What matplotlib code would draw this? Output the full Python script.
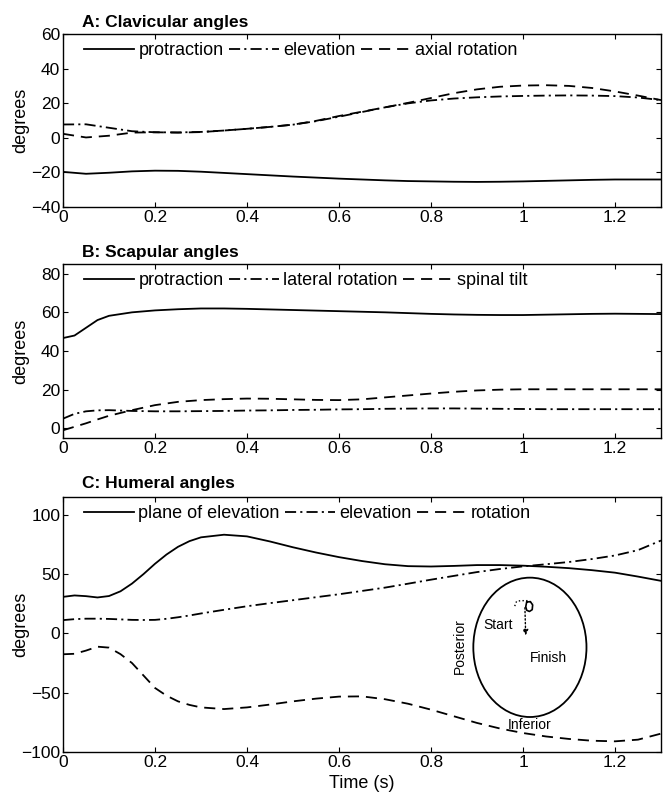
import matplotlib
matplotlib.use("Agg")
import matplotlib.pyplot as plt
from matplotlib.patches import Ellipse

plt.rcParams['font.family'] = ['Liberation Sans', 'DejaVu Sans']
plt.rcParams['lines.scale_dashes'] = False

# ---------------- data ----------------
tA = [0, 0.05, 0.1, 0.15, 0.2, 0.25, 0.3, 0.35, 0.4, 0.45, 0.5, 0.55, 0.6, 0.65,
      0.7, 0.75, 0.8, 0.85, 0.9, 0.95, 1.0, 1.05, 1.1, 1.15, 1.2, 1.25, 1.3]
A_protraction = [-19.7, -20.8, -20.2, -19.4, -19.0, -19.1, -19.6, -20.3, -21.0, -21.7,
                 -22.4, -23.0, -23.6, -24.1, -24.6, -25.0, -25.2, -25.4, -25.5, -25.4,
                 -25.2, -24.9, -24.6, -24.3, -24.1, -24.1, -24.1]
A_elevation = [7.7, 7.8, 5.8, 3.8, 3.2, 3.1, 3.4, 4.2, 5.2, 6.3, 7.6, 9.6, 12.2, 14.9,
               17.6, 19.9, 21.6, 22.7, 23.4, 23.9, 24.2, 24.4, 24.5, 24.4, 24.1, 23.3, 21.8]
A_axial = [2.3, 0.2, 1.2, 3.0, 3.2, 3.0, 3.3, 4.2, 5.2, 6.3, 7.6, 9.8, 12.6, 15.1,
           17.6, 20.2, 23.0, 25.8, 28.0, 29.5, 30.2, 30.4, 30.0, 28.8, 26.8, 24.4, 21.8]

tB = [0, 0.025, 0.05, 0.075, 0.1, 0.15, 0.2, 0.25, 0.3, 0.35, 0.4, 0.45, 0.5, 0.55,
      0.6, 0.65, 0.7, 0.75, 0.8, 0.85, 0.9, 0.95, 1.0, 1.05, 1.1, 1.15, 1.2, 1.25, 1.3]
B_protraction = [46.7, 48.0, 52.0, 56.0, 58.2, 60.0, 61.0, 61.6, 62.0, 62.0, 61.8, 61.5,
                 61.2, 60.9, 60.6, 60.3, 60.0, 59.6, 59.2, 58.9, 58.7, 58.6, 58.6, 58.8,
                 59.0, 59.2, 59.3, 59.2, 59.1]
B_lateral = [5.0, 7.5, 8.8, 9.3, 9.4, 9.0, 8.8, 8.8, 8.9, 9.0, 9.2, 9.3, 9.5, 9.6,
             9.8, 9.9, 10.1, 10.2, 10.3, 10.3, 10.2, 10.1, 10.0, 9.9, 9.9, 9.9, 9.9, 9.9, 9.9]
B_spinal = [-1.0, 0.8, 2.6, 4.6, 6.5, 9.4, 12.0, 13.7, 14.6, 15.1, 15.4, 15.3, 15.0, 14.7,
            14.6, 15.0, 16.0, 17.0, 18.0, 18.9, 19.6, 20.0, 20.2, 20.2, 20.2, 20.2, 20.2,
            20.2, 20.2]

tC = [0, 0.025, 0.05, 0.075, 0.1, 0.125, 0.15, 0.175, 0.2, 0.225, 0.25, 0.275, 0.3,
      0.35, 0.4, 0.45, 0.5, 0.55, 0.6, 0.65, 0.7, 0.75, 0.8, 0.85, 0.9, 0.95, 1.0,
      1.05, 1.1, 1.15, 1.2, 1.25, 1.3]
C_plane = [30.8, 32.0, 31.4, 30.3, 31.5, 35.5, 42.0, 50.0, 58.7, 66.5, 73.0, 77.8, 81.0,
           83.2, 81.8, 77.5, 72.6, 68.2, 64.3, 61.0, 58.3, 56.7, 56.4, 56.9, 57.6, 57.6,
           57.1, 56.2, 55.0, 53.3, 51.2, 47.9, 44.3]
C_elevation = [11.2, 12.0, 12.4, 12.4, 12.2, 11.8, 11.4, 11.3, 11.4, 12.3, 13.6, 15.1,
               16.8, 19.9, 22.9, 25.5, 28.0, 30.5, 33.0, 35.8, 38.6, 41.9, 45.3, 48.5,
               51.7, 54.3, 56.5, 58.3, 60.2, 62.7, 65.7, 70.2, 78.3]
C_rotation = [-17.6, -17.2, -14.5, -11.2, -12.0, -17.5, -25.0, -35.5, -46.0, -52.5,
              -57.3, -60.3, -62.4, -63.8, -62.4, -60.0, -57.3, -55.0, -53.3, -53.1,
              -55.5, -59.3, -64.3, -69.9, -75.5, -80.2, -84.0, -86.9, -89.0, -90.5,
              -91.0, -89.6, -84.5]

# inset (drawn in panel C data coordinates)
ell_center = (1.015, -11.75)
ell_width = 0.246
ell_height = 117.5
path_x = [0.982, 0.986, 0.995, 1.010, 1.022]
path_y = [23.0, 27.0, 27.6, 27.6, 25.5]
loop_x = [1.008, 1.006, 1.008, 1.014, 1.020, 1.021, 1.016, 1.010]
loop_y = [26.5, 22.5, 19.5, 18.5, 20.0, 24.0, 26.8, 26.5]
drop_x = [1.004, 1.006]
drop_y = [24.0, -4.0]

titles = ["A: Clavicular angles", "B: Scapular angles", "C: Humeral angles"]
legends = [["protraction", "elevation", "axial rotation"],
           ["protraction", "lateral rotation", "spinal tilt"],
           ["plane of elevation", "elevation", "rotation"]]
ylims = [(-40, 60), (-5, 85), (-100, 115)]
yticks = [[-40, -20, 0, 20, 40, 60], [0, 20, 40, 60, 80], [-100, -50, 0, 50, 100]]
xticks = [0, 0.2, 0.4, 0.6, 0.8, 1.0, 1.2]
xticklabels = ["0", "0.2", "0.4", "0.6", "0.8", "1", "1.2"]

# ---------------- figure ----------------
fig = plt.figure(figsize=(6.64, 7.98), dpi=100)
W, H = 664, 798
L, R = 63, 661
boxes = [(34, 207), (264, 438), (497, 752)]

series = [(tA, [A_protraction, A_elevation, A_axial]),
          (tB, [B_protraction, B_lateral, B_spinal]),
          (tC, [C_plane, C_elevation, C_rotation])]

styles = [dict(linestyle='-'),
          dict(linestyle=(0, (8, 3, 1.5, 3))),
          dict(linestyle=(0, (8, 5)))]

lw = 1.3
axes = []
for i, (top, bot) in enumerate(boxes):
    ax = fig.add_axes([L / W, 1 - bot / H, (R - L) / W, (bot - top) / H])
    axes.append(ax)
    t, ys = series[i]
    for y, st, lab in zip(ys, styles, legends[i]):
        ax.plot(t, y, color='black', lw=lw, label=lab, **st)
    ax.set_xlim(0, 1.3)
    ax.set_ylim(*ylims[i])
    ax.set_yticks(yticks[i])
    ax.set_yticklabels([str(v).replace('-', '\u2212') for v in yticks[i]])
    ax.set_xticks(xticks)
    ax.set_xticklabels(xticklabels)
    ax.tick_params(direction='in', top=True, right=True, length=3.6, width=0.8,
                   labelsize=12.5, pad=2)
    for sp in ax.spines.values():
        sp.set_linewidth(1.0)
    ax.set_ylabel("degrees", fontsize=13)
    ax.yaxis.set_label_coords(-0.056, 0.5)
    ax.text(0.032, 1.025, titles[i], transform=ax.transAxes, fontsize=12.5,
            fontweight='bold', ha='left', va='bottom')
    leg = ax.legend(loc='upper left', ncol=3, frameon=False, fontsize=13,
                    handlelength=2.75, handletextpad=0.25, columnspacing=0.3,
                    borderaxespad=0.15, borderpad=0.3, bbox_to_anchor=(0.022, 1.0))

axC = axes[2]
axC.set_xlabel("Time (s)", fontsize=13, labelpad=4)
axC.add_patch(Ellipse(ell_center, ell_width, ell_height, fill=False,
                      edgecolor='black', lw=1.3))
axC.plot(path_x, path_y, color='black', lw=1.0, linestyle=':')
axC.plot(loop_x, loop_y, color='black', lw=1.2)
axC.annotate("", xy=(drop_x[1], drop_y[1]), xytext=(drop_x[0], drop_y[0]),
             arrowprops=dict(arrowstyle='-|>', color='black', lw=1.0,
                             linestyle=':', mutation_scale=8))
axC.text(0.945, 7, "Start", fontsize=10, ha='center', va='center')
axC.text(1.055, -21, "Finish", fontsize=10, ha='center', va='center')
axC.text(0.862, -11, "Posterior", fontsize=10, ha='center', va='center', rotation=90)
axC.text(1.014, -77, "Inferior", fontsize=10, ha='center', va='center')

fig.savefig("out.png", dpi=100)
